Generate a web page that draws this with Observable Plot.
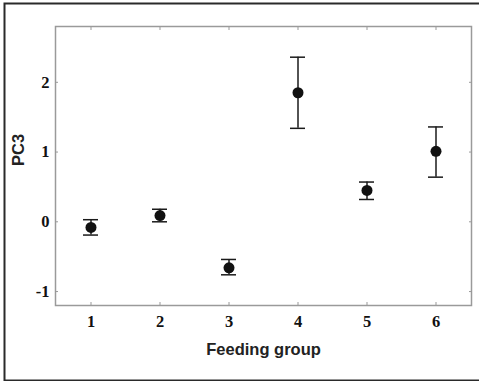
<!DOCTYPE html>
<html><head>
<meta charset="utf-8">
<script src="https://cdn.jsdelivr.net/npm/d3@7"></script>
<script src="https://cdn.jsdelivr.net/npm/@observablehq/plot@0.6"></script>
<style>body{margin:0;background:#fff;} #chart{width:479px;height:381px;overflow:hidden;}</style>
</head><body><div id="chart"></div>
<script>
const groups = [1, 2, 3, 4, 5, 6];
const means = [-0.08, 0.09, -0.66, 1.85, 0.45, 1.01];
const upper = [0.03, 0.18, -0.54, 2.36, 0.57, 1.36];
const lower = [-0.19, 0.0, -0.76, 1.34, 0.32, 0.64];
const yTicks = [-1, 0, 1, 2];
const xLabel = "Feeding group";
const yLabel = "PC3";

const data = groups.map((g, i) => ({g, m: means[i], hi: upper[i], lo: lower[i]}));
const serif = "'Liberation Serif', 'Times New Roman', serif";
const sans = "'Liberation Sans', Arial, sans-serif";

const plot = Plot.plot({
  width: 479, height: 381,
  marginLeft: 55, marginRight: 8, marginTop: 26, marginBottom: 76,
  style: {background: "white", color: "#111"},
  x: {type: "band", domain: groups, padding: 0, label: null},
  y: {domain: [-1.2, 2.8], label: null},
  marks: [
    Plot.frame({stroke: "#2a2a2a", strokeWidth: 2, insetLeft: -51, insetTop: -23, insetBottom: -75, insetRight: -40}),
    Plot.frame({stroke: "#9a9a9a", strokeWidth: 1.5}),
    Plot.axisX(groups, {anchor: "bottom", tickSize: -3, stroke: "#999", fill: "none", label: null}),
    Plot.axisX(groups, {anchor: "top", tickSize: -3, stroke: "#999", fill: "none", label: null}),
    Plot.axisY(yTicks, {anchor: "left", tickSize: -3, stroke: "#999", fill: "none", label: null}),
    Plot.axisY(yTicks, {anchor: "right", tickSize: -3, stroke: "#999", fill: "none", label: null}),
    Plot.axisX(groups, {anchor: "bottom", tickSize: 0, tickPadding: 10, fontFamily: serif, fontWeight: "bold", fontSize: 16.5, fill: "#111", label: null}),
    Plot.axisY(yTicks, {anchor: "left", tickSize: 0, tickPadding: 6, tickFormat: d => String(d), fontFamily: serif, fontWeight: "bold", fontSize: 16.5, fill: "#111", label: null}),
    Plot.ruleX(data, {x: "g", y1: "lo", y2: "hi", stroke: "#1a1a1a", strokeWidth: 1.5}),
    Plot.tickY(data, {x: "g", y: "hi", insetLeft: 27, insetRight: 27, stroke: "#1a1a1a", strokeWidth: 1.5}),
    Plot.tickY(data, {x: "g", y: "lo", insetLeft: 27, insetRight: 27, stroke: "#1a1a1a", strokeWidth: 1.5}),
    Plot.dot(data, {x: "g", y: "m", r: 5.5, fill: "#111", stroke: "none"}),
    Plot.text([xLabel], {text: d => d, frameAnchor: "bottom", dy: 44, lineAnchor: "middle", fontFamily: sans, fontWeight: "bold", fontSize: 16.5, fill: "#222"}),
    Plot.text([yLabel], {text: d => d, frameAnchor: "left", dx: -37, rotate: -90, lineAnchor: "middle", fontFamily: sans, fontWeight: "bold", fontSize: 16.5, fill: "#222"})
  ]
});
document.getElementById("chart").appendChild(plot);
</script>
</body></html>
